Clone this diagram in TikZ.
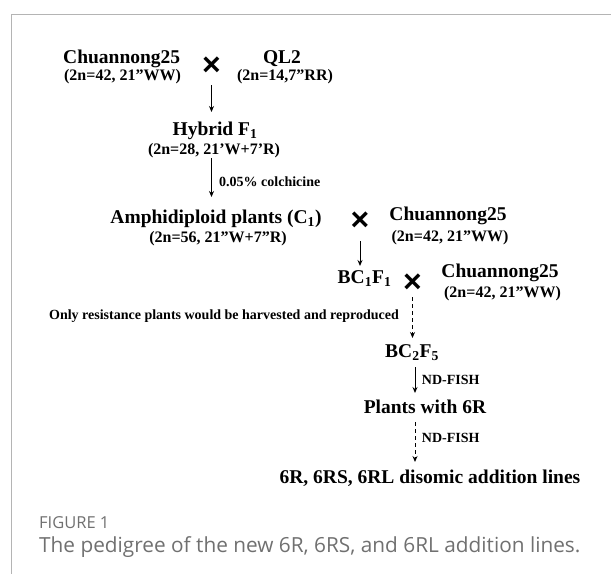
\documentclass[tikz,border=0pt]{standalone}
\usepackage{fontspec}
\setmainfont{Liberation Serif}
\newfontfamily\capfont{Open Sans}
\newfontfamily\crossfont{Liberation Sans}
\usetikzlibrary{arrows.meta}
\definecolor{framegray}{HTML}{B4B4B4}
\definecolor{capgray}{HTML}{707070}
\tikzset{%
	parent/.style   = {font=\fontsize{19.5}{19.5}\selectfont\bfseries, inner sep=0pt, anchor=base},
	genome/.style   = {font=\fontsize{16}{16}\selectfont\bfseries, inner sep=0pt, anchor=base},
	cross/.style    = {font=\fontsize{32}{32}\selectfont\crossfont\bfseries, inner sep=0pt},
	note/.style     = {font=\fontsize{14}{14}\selectfont\bfseries, inner sep=0pt},
	arrow/.style    = {line width=1pt, -{Stealth[length=6pt,width=5pt]}},
	dasharrow/.style= {arrow, dash pattern=on 4pt off 3pt},
}
\begin{document}
\begin{tikzpicture}[x=1pt,y=-1pt]
		\useasboundingbox (0,0) rectangle (611,574);
		\draw[framegray, line width=1pt] (611,14) -- (11,14) -- (11,574);
		% first cross
		\node[parent] (cn1) at (121.7,63) {Chuannong25};
		\node[genome] (cn1g) at (122.5,80.5) {(2n=42, 21”WW)};
		\node[cross] (x1) at (211.5,66) {×};
		\node[parent] (ql) at (282,63) {QL2};
		\node[genome] (qlg) at (285,80.5) {(2n=14,7”RR)};
		\node[parent] (f1) at (215,135) {Hybrid F\textsubscript{1}};
		\node[genome] (f1g) at (214,154) {(2n=28, 21’W+7’R)};
		\draw[arrow, shorten <=19pt, shorten >=23pt] (x1.center) -- (x1.center |- f1.base);
		\node[note, anchor=base west] (colch) at (219,186) {0.05\% colchicine};
		\node[parent] (c1) at (216,223) {Amphidiploid plants (C\textsubscript{1})};
		\node[genome] (c1g) at (218,242) {(2n=56, 21”W+7”R)};
		\draw[arrow, shorten <=4pt, shorten >=26pt] (x1.center |- f1g.base) -- (x1.center |- c1.base);
		% backcrosses
		\node[cross] (x2) at (360,221.5) {×};
		\node[parent] (cn2) at (448,220) {Chuannong25};
		\node[genome] (cn2g) at (450,241) {(2n=42, 21”WW)};
		\node[parent] (bc1) at (364.5,283) {BC\textsubscript{1}F\textsubscript{1}};
		\draw[arrow, shorten <=19.5pt, shorten >=17pt] (x2.center) -- (x2.center |- bc1.base);
		\node[cross] (x3) at (412.5,283) {×};
		\node[parent] (cn3) at (500,277) {Chuannong25};
		\node[genome] (cn3g) at (502.5,297) {(2n=42, 21”WW)};
		\node[note, anchor=base east] (only) at (399,319) {Only resistance plants would be harvested and reproduced};
		\node[parent] (bc2) at (412,357) {BC\textsubscript{2}F\textsubscript{5}};
		\draw[dasharrow, shorten <=14pt, shorten >=19pt] (x3.center) -- (x3.center |- bc2.base);
		% screening
		\node[parent] (r6) at (425,413) {Plants with 6R};
		\draw[arrow, shorten <=10pt, shorten >=20pt] ([xshift=3pt]bc2.base) -- ([xshift=3pt]bc2.base |- r6.base);
		\node[note, anchor=base west] (nd1) at (421.7,384) {ND-FISH};
		\node[parent] (lines) at (430,483) {6R, 6RS, 6RL disomic addition lines};
		\draw[dasharrow, shorten <=9pt, shorten >=21pt] ([xshift=3pt]bc2.base |- r6.base) -- ([xshift=3pt]bc2.base |- lines.base);
		\node[note, anchor=base west] (nd2) at (421.7,442) {ND-FISH};
		% caption
		\node[anchor=base west, inner sep=0pt, text=capgray, font=\capfont\fontsize{16.5}{16.5}\selectfont] (fig) at (39,528) {FIGURE 1};
		\node[anchor=base west, inner sep=0pt, text=capgray, font=\capfont\fontsize{20.8}{20.8}\selectfont] (cap) at (39,552) {The pedigree of the new 6R, 6RS, and 6RL addition lines.};
		\end{tikzpicture}
\end{document}
